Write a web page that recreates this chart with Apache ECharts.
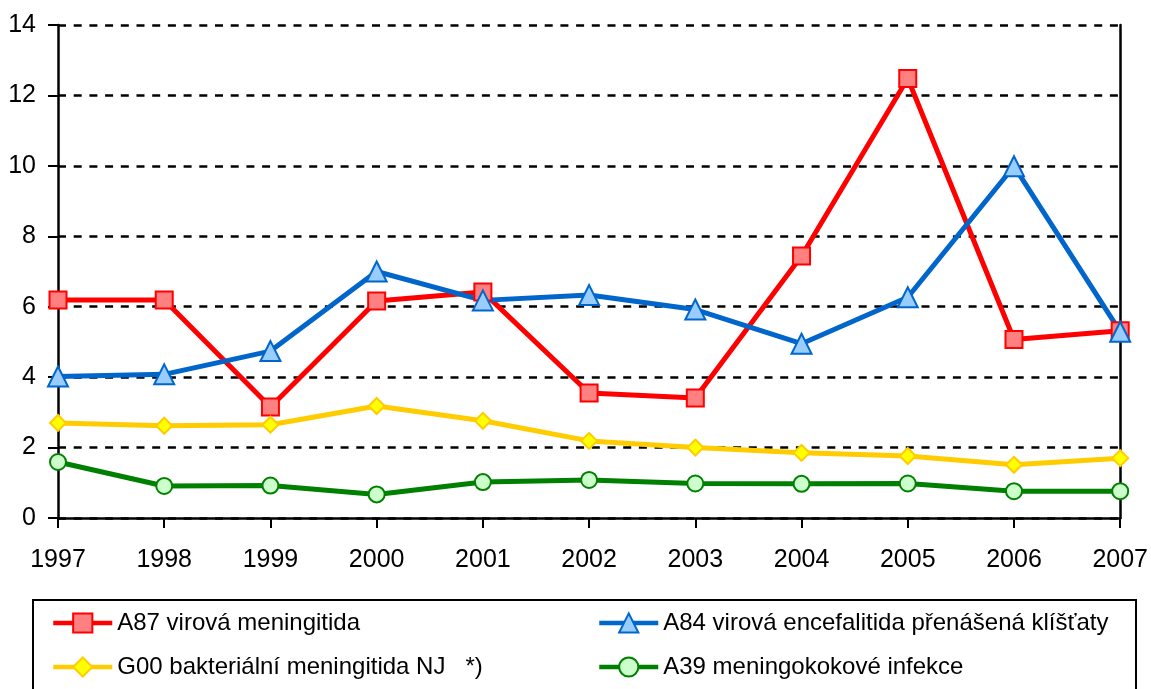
<!DOCTYPE html>
<html>
<head>
<meta charset="utf-8">
<script src="https://cdn.jsdelivr.net/npm/echarts@6/dist/echarts.min.js"></script>
<style>
  html, body { margin: 0; padding: 0; background: #fff; }
  #chart { width: 1151px; height: 689px; }
</style>
</head>
<body>
<div id="chart"></div>
<script>
let years = ['1997', '1998', '1999', '2000', '2001', '2002', '2003', '2004', '2005', '2006', '2007'];
let a87 = [6.19, 6.19, 3.15, 6.16, 6.42, 3.55, 3.41, 7.44, 12.48, 5.07, 5.32];
let a84 = [4.02, 4.08, 4.74, 7.0, 6.18, 6.33, 5.92, 4.95, 6.27, 9.99, 5.29];
let g00 = [2.7, 2.62, 2.65, 3.18, 2.76, 2.19, 2.0, 1.85, 1.76, 1.51, 1.7];
let a39 = [1.59, 0.91, 0.92, 0.67, 1.02, 1.08, 0.98, 0.97, 0.98, 0.76, 0.76];
let yMin = 0, yMax = 14, yStep = 2;

let font = "'Liberation Sans', Arial, sans-serif";

let myChart = echarts.init(document.getElementById('chart'));

function leg(name, left, top) {
    return {
        data: [name],
        left: left,
        top: top,
        orient: 'horizontal',
        itemWidth: 59,
        itemHeight: 24,
        padding: 0,
        selectedMode: false,
        lineStyle: { width: 4.5 },
        textStyle: { fontFamily: font, fontSize: 24, color: '#000', lineHeight: 28 }
    };
}

let option = {
    backgroundColor: '#fff',
    animation: false,
    grid: { left: 58, right: 28, top: 25, bottom: 171, containLabel: false },
    graphic: [{
        type: 'rect',
        shape: { x: 33, y: 600, width: 1103, height: 100 },
        style: { fill: 'none', stroke: '#000', lineWidth: 2 }
    }],
    legend: [
        leg('A87 virová meningitida', 51, 609),
        leg('G00 bakteriální meningitida NJ   *)', 51, 653),
        leg('A84 virová encefalitida přenášená klíšťaty', 597, 609),
        leg('A39 meningokokové infekce', 597, 653)
    ],
    xAxis: {
        type: 'category',
        data: years,
        boundaryGap: false,
        axisLine: { lineStyle: { color: '#000', width: 2.5 } },
        axisTick: { show: true, inside: false, length: 10, alignWithLabel: true, lineStyle: { color: '#000', width: 2 } },
        axisLabel: { margin: 30, fontFamily: font, fontSize: 25, color: '#000' },
        splitLine: { show: false }
    },
    yAxis: [{
        type: 'value',
        min: yMin,
        max: yMax,
        interval: yStep,
        axisLine: { show: true, lineStyle: { color: '#000', width: 2.5 } },
        axisTick: { show: true, inside: false, length: 10, lineStyle: { color: '#000', width: 2 } },
        axisLabel: { margin: 22, fontFamily: font, fontSize: 25, color: '#000' },
        splitLine: { show: true, lineStyle: { color: '#000', width: 2.5, type: [8, 7.7] } }
    }, {
        type: 'value',
        position: 'right',
        min: yMin,
        max: yMax,
        interval: yStep,
        axisLine: { show: true, lineStyle: { color: '#000', width: 2.5 } },
        axisTick: { show: false },
        axisLabel: { show: false },
        splitLine: { show: false }
    }],
    series: [{
        name: 'A87 virová meningitida',
        type: 'line',
        data: a87,
        symbol: 'rect',
        symbolSize: 17,
        lineStyle: { color: '#ff0000', width: 5 },
        itemStyle: { color: '#ff8080', borderColor: '#ff0000', borderWidth: 2 }
    }, {
        name: 'A84 virová encefalitida přenášená klíšťaty',
        type: 'line',
        data: a84,
        symbol: 'triangle',
        symbolSize: 20,
        lineStyle: { color: '#0066cc', width: 5 },
        itemStyle: { color: '#99ccff', borderColor: '#0066cc', borderWidth: 2 }
    }, {
        name: 'G00 bakteriální meningitida NJ   *)',
        type: 'line',
        data: g00,
        symbol: 'diamond',
        symbolSize: 16,
        lineStyle: { color: '#ffcc00', width: 5 },
        itemStyle: { color: '#ffff00', borderColor: '#ffcc00', borderWidth: 2 }
    }, {
        name: 'A39 meningokokové infekce',
        type: 'line',
        data: a39,
        symbol: 'circle',
        symbolSize: 16,
        lineStyle: { color: '#008000', width: 5 },
        itemStyle: { color: '#ccffcc', borderColor: '#008000', borderWidth: 2 }
    }]
};
myChart.setOption(option);
</script>
</body>
</html>
